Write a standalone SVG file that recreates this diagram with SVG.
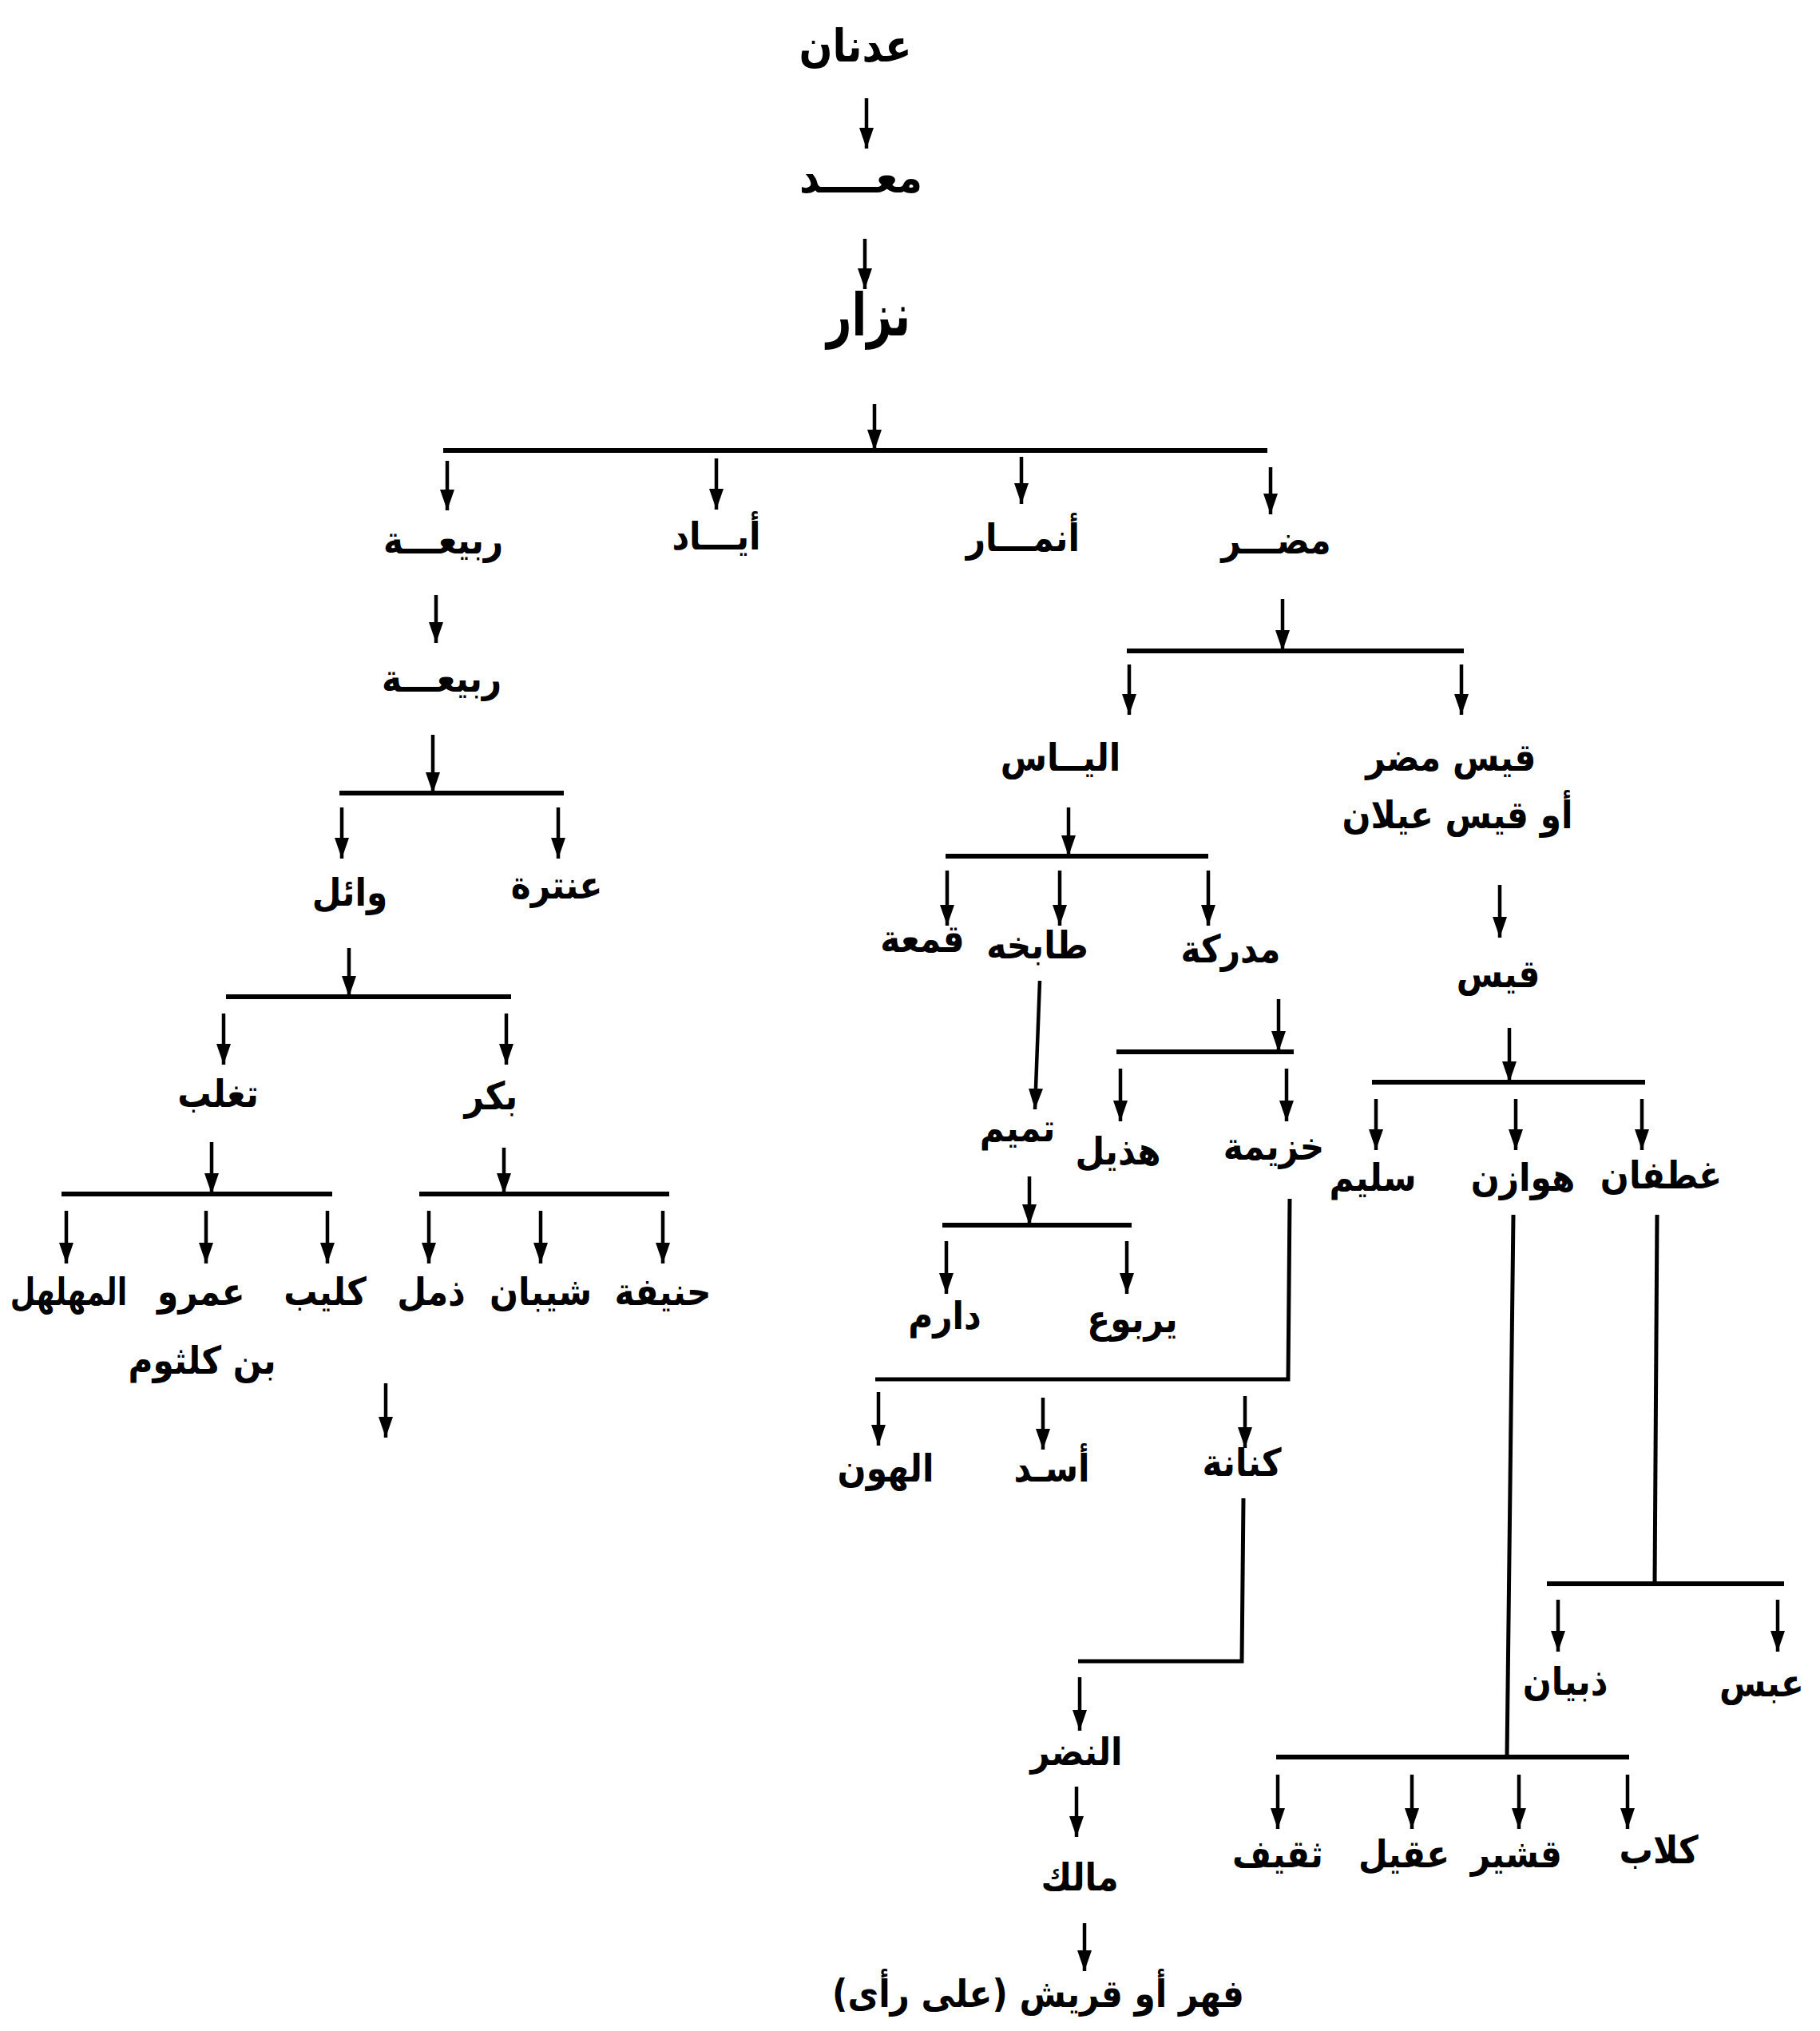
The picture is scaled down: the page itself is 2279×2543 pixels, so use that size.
<svg xmlns="http://www.w3.org/2000/svg" width="2279" height="2543" viewBox="0 0 2279 2543">
<style>
text{font-family:"DejaVu Sans",sans-serif;font-weight:bold;font-size:48px;fill:#000;text-anchor:middle;transform-box:fill-box;transform-origin:center;transform:scaleX(0.88)}
.big{font-size:74px;transform:scaleX(0.74)}
.top{font-size:56px}
.nar{transform:scaleX(0.76)}
.a{stroke:#000;stroke-width:4.5;fill:none;marker-end:url(#ah)}
.h{stroke:#000;stroke-width:6;fill:none}
.v{stroke:#000;stroke-width:5;fill:none}
</style>
<defs>
<marker id="ah" viewBox="0 0 26 18" refX="26" refY="9" markerWidth="26" markerHeight="18" markerUnits="userSpaceOnUse" orient="auto">
<path d="M0,0 L26,9 L0,18 z" fill="#000"/>
</marker>
</defs>
<rect width="2279" height="2543" fill="#fff"/>
<g id="connectors">
<line class="a" x1="1085" y1="123" x2="1085" y2="186"/>
<line class="a" x1="1083" y1="299" x2="1083" y2="362"/>
<line class="a" x1="1095" y1="506" x2="1095" y2="564"/>
<line class="h" x1="555" y1="564" x2="1587" y2="564"/>
<line class="a" x1="560" y1="577" x2="560" y2="639"/>
<line class="a" x1="897" y1="574" x2="897" y2="638"/>
<line class="a" x1="1279" y1="572" x2="1279" y2="631"/>
<line class="a" x1="1591" y1="585" x2="1591" y2="644"/>
<line class="a" x1="546" y1="745" x2="546" y2="805"/>
<line class="a" x1="542" y1="920" x2="542" y2="993"/>
<line class="h" x1="425" y1="993" x2="706" y2="993"/>
<line class="a" x1="428" y1="1011" x2="428" y2="1075"/>
<line class="a" x1="699" y1="1011" x2="699" y2="1075"/>
<line class="a" x1="437" y1="1187" x2="437" y2="1248"/>
<line class="h" x1="283" y1="1248" x2="640" y2="1248"/>
<line class="a" x1="280" y1="1269" x2="280" y2="1333"/>
<line class="a" x1="634" y1="1269" x2="634" y2="1333"/>
<line class="a" x1="265" y1="1430" x2="265" y2="1495"/>
<line class="h" x1="77" y1="1495" x2="416" y2="1495"/>
<line class="a" x1="631" y1="1437" x2="631" y2="1495"/>
<line class="h" x1="525" y1="1495" x2="838" y2="1495"/>
<line class="a" x1="83" y1="1516" x2="83" y2="1582"/>
<line class="a" x1="258" y1="1516" x2="258" y2="1582"/>
<line class="a" x1="410" y1="1516" x2="410" y2="1582"/>
<line class="a" x1="537" y1="1516" x2="537" y2="1582"/>
<line class="a" x1="677" y1="1516" x2="677" y2="1582"/>
<line class="a" x1="830" y1="1516" x2="830" y2="1582"/>
<line class="a" x1="483" y1="1732" x2="483" y2="1800"/>
<line class="a" x1="1606" y1="750" x2="1606" y2="815"/>
<line class="h" x1="1411" y1="815" x2="1833" y2="815"/>
<line class="a" x1="1414" y1="832" x2="1414" y2="895"/>
<line class="a" x1="1830" y1="832" x2="1830" y2="895"/>
<line class="a" x1="1338" y1="1011" x2="1338" y2="1072"/>
<line class="h" x1="1184" y1="1072" x2="1513" y2="1072"/>
<line class="a" x1="1186" y1="1090" x2="1186" y2="1159"/>
<line class="a" x1="1327" y1="1090" x2="1327" y2="1159"/>
<line class="a" x1="1513" y1="1090" x2="1513" y2="1159"/>
<line class="a" x1="1302" y1="1228" x2="1296" y2="1389"/>
<line class="a" x1="1601" y1="1251" x2="1601" y2="1317"/>
<line class="h" x1="1398" y1="1317" x2="1620" y2="1317"/>
<line class="a" x1="1403" y1="1338" x2="1403" y2="1404"/>
<line class="a" x1="1611" y1="1338" x2="1611" y2="1404"/>
<line class="a" x1="1289" y1="1473" x2="1289" y2="1534"/>
<line class="h" x1="1180" y1="1534" x2="1417" y2="1534"/>
<line class="a" x1="1185" y1="1554" x2="1185" y2="1620"/>
<line class="a" x1="1411" y1="1554" x2="1411" y2="1620"/>
<polyline class="v" points="1615,1501 1613,1727 1096,1727"/>
<line class="a" x1="1100" y1="1743" x2="1100" y2="1810"/>
<line class="a" x1="1306" y1="1750" x2="1306" y2="1815"/>
<line class="a" x1="1559" y1="1748" x2="1559" y2="1813"/>
<polyline class="v" points="1557,1876 1555,2080 1350,2080"/>
<line class="a" x1="1352" y1="2100" x2="1352" y2="2167"/>
<line class="a" x1="1348" y1="2237" x2="1348" y2="2300"/>
<line class="a" x1="1358" y1="2408" x2="1358" y2="2468"/>
<line class="a" x1="1878" y1="1108" x2="1878" y2="1174"/>
<line class="a" x1="1890" y1="1287" x2="1890" y2="1355"/>
<line class="h" x1="1718" y1="1355" x2="2060" y2="1355"/>
<line class="a" x1="1723" y1="1376" x2="1723" y2="1440"/>
<line class="a" x1="1898" y1="1376" x2="1898" y2="1440"/>
<line class="a" x1="2056" y1="1376" x2="2056" y2="1440"/>
<line class="v" x1="2075" y1="1521" x2="2072" y2="1983"/>
<line class="h" x1="1937" y1="1983" x2="2234" y2="1983"/>
<line class="a" x1="1951" y1="2003" x2="1951" y2="2068"/>
<line class="a" x1="2226" y1="2003" x2="2226" y2="2068"/>
<line class="v" x1="1895" y1="1521" x2="1887" y2="2200"/>
<line class="h" x1="1598" y1="2200" x2="2040" y2="2200"/>
<line class="a" x1="1600" y1="2222" x2="1600" y2="2290"/>
<line class="a" x1="1768" y1="2222" x2="1768" y2="2290"/>
<line class="a" x1="1902" y1="2222" x2="1902" y2="2290"/>
<line class="a" x1="2038" y1="2222" x2="2038" y2="2290"/>
</g>
<g id="adnan"><text class="top" x="1071" y="77">عدنان</text></g>
<g id="maad"><text class="top" x="1078" y="241">معــــد</text></g>
<g id="nizar"><text class="big" x="1088" y="420">نزار</text></g>
<g id="rabia1"><text x="555" y="693">ربيعـــة</text></g>
<g id="iyad"><text x="897" y="688">أيـــاد</text></g>
<g id="anmar"><text x="1281" y="690">أنمـــار</text></g>
<g id="mudar"><text x="1598" y="693">مضـــر</text></g>
<g id="rabia2"><text x="553" y="866">ربيعـــة</text></g>
<g id="wail"><text x="438" y="1134">وائل</text></g>
<g id="antara"><text x="697" y="1125">عنترة</text></g>
<g id="taghlib"><text x="273" y="1386">تغلب</text></g>
<g id="bakr"><text x="615" y="1389">بكر</text></g>
<g id="muhalhil"><text class="nar" x="86" y="1634">المهلهل</text></g>
<g id="amr"><text x="252" y="1634">عمرو</text><text x="253" y="1720">بن كلثوم</text></g>
<g id="kulayb"><text x="407" y="1634">كليب</text></g>
<g id="dhuhl"><text x="540" y="1634">ذمل</text></g>
<g id="shayban"><text x="677" y="1634">شيبان</text></g>
<g id="hanifa"><text x="830" y="1634">حنيفة</text></g>
<g id="ilyas"><text x="1328" y="965">اليــاس</text></g>
<g id="qaysmudar"><text x="1817" y="965">قيس مضر</text><text x="1825" y="1037">أو قيس عيلان</text></g>
<g id="qama"><text x="1155" y="1192">قمعة</text></g>
<g id="tabikha"><text x="1299" y="1200">طابخه</text></g>
<g id="mudrika"><text x="1541" y="1205">مدركة</text></g>
<g id="tamim"><text x="1274" y="1429">تميم</text></g>
<g id="hudhayl"><text x="1400" y="1458">هذيل</text></g>
<g id="khuzayma"><text x="1595" y="1452">خزيمة</text></g>
<g id="darim"><text x="1183" y="1664">دارم</text></g>
<g id="yarbu"><text x="1418" y="1668">يربوع</text></g>
<g id="alhun"><text x="1109" y="1855">الهون</text></g>
<g id="asad"><text x="1317" y="1855">أسـد</text></g>
<g id="kinana"><text x="1555" y="1848">كنانة</text></g>
<g id="nadr"><text x="1348" y="2210">النضر</text></g>
<g id="malik"><text x="1352" y="2367">مالك</text></g>
<g id="fihr"><text x="1300" y="2513">فهر أو قريش (على رأى)</text></g>
<g id="qays"><text x="1876" y="1236">قيس</text></g>
<g id="sulaym"><text x="1719" y="1491">سليم</text></g>
<g id="hawazin"><text x="1907" y="1491">هوازن</text></g>
<g id="ghatafan"><text x="2080" y="1488">غطفان</text></g>
<g id="dhubyan"><text x="1960" y="2122">ذبيان</text></g>
<g id="abs"><text x="2206" y="2124">عبس</text></g>
<g id="thaqif"><text x="1600" y="2338">ثقيف</text></g>
<g id="uqayl"><text x="1758" y="2338">عقيل</text></g>
<g id="qushayr"><text x="1899" y="2338">قشير</text></g>
<g id="kilab"><text x="2077" y="2333">كلاب</text></g>
</svg>
